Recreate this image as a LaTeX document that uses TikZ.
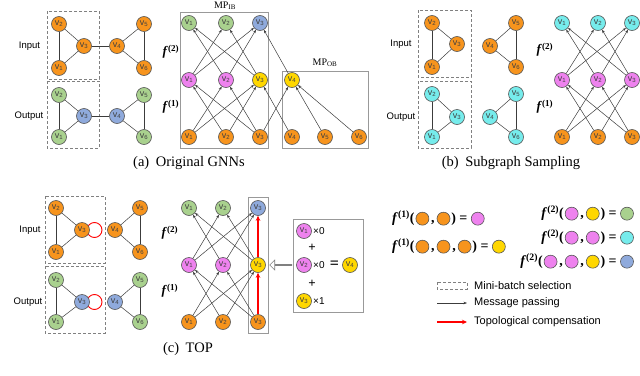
\documentclass[tikz,border=0pt]{standalone}
\usepackage{fontspec}
\setmainfont{Liberation Serif}
\setsansfont{Liberation Sans}
\usetikzlibrary{arrows.meta,shapes.arrows}
\pgfdeclarelayer{bg}\pgfsetlayers{bg,main}
\definecolor{corange}{RGB}{247,148,29}
\definecolor{cgreen}{RGB}{169,209,142}
\definecolor{cblue}{RGB}{143,170,220}
\definecolor{cpink}{RGB}{238,130,238}
\definecolor{cyellow}{RGB}{255,215,0}
\definecolor{ccyan}{RGB}{118,236,236}
\definecolor{bordergray}{RGB}{85,85,85}
\definecolor{edgegray}{RGB}{60,60,60}
\newcommand{\vlab}[1]{v\textsubscript{#1}}
\newcommand{\flab}[1]{\textbf{\textit{f}}\textsuperscript{\bfseries(#1)}}
\newcommand{\dc}[1]{\tikz[baseline=-0.6ex]\node[circle,draw=bordergray,line width=0.6pt,fill=#1,minimum size=13pt,inner sep=0pt]{};}
\newcommand{\cm}{\hspace{2pt},\hspace{2pt}}
\newcommand{\eqsgn}{\hspace{3.5pt}=\hspace{3.5pt}}
\tikzset{
 vn/.style={circle,draw=bordergray,line width=0.6pt,minimum size=15pt,inner sep=0pt,font=\sffamily\fontsize{9}{9}\selectfont,text=black!75},
 vor/.style={vn,fill=corange},
 vgr/.style={vn,fill=cgreen},
 vbl/.style={vn,fill=cblue},
 vpk/.style={vn,fill=cpink},
 vye/.style={vn,fill=cyellow},
 vcy/.style={vn,fill=ccyan},
 ed/.style={draw=edgegray,line width=0.5pt},
 ar/.style={ed,-{Stealth[length=3.5pt,width=2.6pt]}},
 rar/.style={draw=red,line width=1.4pt,-{Stealth[length=5pt,width=4.5pt]}},
 dbox/.style={draw=gray,line width=0.8pt,dash pattern=on 3pt off 2pt},
 sbox/.style={draw=gray!80,line width=0.6pt},
 lab/.style={font=\sffamily\fontsize{9.5}{10}\selectfont},
 leg/.style={font=\sffamily\fontsize{11}{12}\selectfont,anchor=west,inner sep=0pt},
 flb/.style={font=\fontsize{13}{14}\selectfont},
 captxt/.style={font=\fontsize{14.5}{16}\selectfont},
 mpl/.style={font=\fontsize{10}{11}\selectfont,inner sep=0pt},
 eqs/.style={font=\fontsize{14}{15}\selectfont\bfseries,inner sep=0pt},
 opx/.style={font=\sffamily\fontsize{10}{11}\selectfont,inner sep=0pt},
}
\begin{document}
\begin{tikzpicture}[x=1pt,y=-1pt]
\useasboundingbox (0,0) rectangle (640,375);
%================ (a) graphs
\draw[dbox] (47,11) rectangle (99,79);
\draw[dbox] (47,81) rectangle (99,148);
\node[lab] (aIn) at (29.5,46) {Input};
\node[lab] (aOut) at (29,116) {Output};
\node[vor] (ai2) at (59,24) {\vlab{2}};
\node[vor] (ai3) at (84,46) {\vlab{3}};
\node[vor] (ai1) at (59,68) {\vlab{1}};
\node[vor] (ai4) at (117,46) {\vlab{4}};
\node[vor] (ai5) at (144,24) {\vlab{5}};
\node[vor] (ai6) at (144,68) {\vlab{6}};
\node[vgr] (ao2) at (59,95) {\vlab{2}};
\node[vbl] (ao3) at (84,116) {\vlab{3}};
\node[vgr] (ao1) at (59,137) {\vlab{1}};
\node[vbl] (ao4) at (117,116) {\vlab{4}};
\node[vgr] (ao5) at (144,95) {\vlab{5}};
\node[vgr] (ao6) at (144,137) {\vlab{6}};
\foreach \p in {ai,ao}{
 \foreach \s/\t in {1/2,1/3,2/3,3/4,4/5,4/6,5/6}{\draw[ed] (\p\s) -- (\p\t);}
}
%================ (a) tree
\draw[sbox] (180,12) rectangle (268,148);
\draw[sbox] (282,71) rectangle (368,148);
\node[mpl] (mpib) at (225,5.5) {MP\textsubscript{IB}};
\node[mpl] (mpob) at (325,63) {MP\textsubscript{OB}};
\node[flb] (af2) at (171,52) {\flab{2}};
\node[flb] (af1) at (171,107) {\flab{1}};
\node[vgr] (at1) at (189,23) {\vlab{1}};
\node[vgr] (at2) at (226,23) {\vlab{2}};
\node[vbl] (at3) at (260,23) {\vlab{3}};
\node[vpk] (am1) at (189,80) {\vlab{1}};
\node[vpk] (am2) at (226,80) {\vlab{2}};
\node[vye] (am3) at (260,80) {\vlab{3}};
\node[vye] (am4) at (292,80) {\vlab{4}};
\node[vor] (al1) at (189,137) {\vlab{1}};
\node[vor] (al2) at (226,137) {\vlab{2}};
\node[vor] (al3) at (260,137) {\vlab{3}};
\node[vor] (al4) at (292,137) {\vlab{4}};
\node[vor] (al5) at (325,137) {\vlab{5}};
\node[vor] (al6) at (359,137) {\vlab{6}};
\foreach \s/\t in {l2/m1,l3/m1,l1/m2,l3/m2,l1/m3,l2/m3,l4/m3,l3/m4,l5/m4,l6/m4,m2/t1,m3/t1,m1/t2,m3/t2,m1/t3,m2/t3,m4/t3}{\draw[ar] (a\s) -- (a\t);}
\node[captxt] (capa) at (189,163) {(a)\hspace{0.45em}Original GNNs};
%================ (b) graphs
\draw[dbox] (418,10) rectangle (471,77);
\draw[dbox] (418,81) rectangle (471,148);
\node[lab] (bIn) at (401,44) {Input};
\node[lab] (bOut) at (401,117) {Output};
\node[vor] (bi2) at (432,23) {\vlab{2}};
\node[vor] (bi3) at (457,44) {\vlab{3}};
\node[vor] (bi1) at (432,67) {\vlab{1}};
\node[vor] (bi5) at (516,23) {\vlab{5}};
\node[vor] (bi4) at (490,46) {\vlab{4}};
\node[vor] (bi6) at (516,67) {\vlab{6}};
\node[vcy] (bo2) at (432,94) {\vlab{2}};
\node[vcy] (bo3) at (457,117) {\vlab{3}};
\node[vcy] (bo1) at (432,137) {\vlab{1}};
\node[vcy] (bo5) at (516,94) {\vlab{5}};
\node[vcy] (bo4) at (490,117) {\vlab{4}};
\node[vcy] (bo6) at (516,137) {\vlab{6}};
\foreach \p in {bi,bo}{
 \foreach \s/\t in {1/2,1/3,2/3,4/5,4/6,5/6}{\draw[ed] (\p\s) -- (\p\t);}
}
%================ (b) tree
\node[flb] (bf2) at (545,50) {\flab{2}};
\node[flb] (bf1) at (545,107) {\flab{1}};
\node[vcy] (bt1) at (562,23) {\vlab{1}};
\node[vcy] (bt2) at (598,23) {\vlab{2}};
\node[vcy] (bt3) at (632,23) {\vlab{3}};
\node[vpk] (bm1) at (562,80) {\vlab{1}};
\node[vpk] (bm2) at (598,80) {\vlab{2}};
\node[vpk] (bm3) at (632,80) {\vlab{3}};
\node[vor] (bl1) at (562,137) {\vlab{1}};
\node[vor] (bl2) at (598,137) {\vlab{2}};
\node[vor] (bl3) at (632,137) {\vlab{3}};
\foreach \s/\t in {l2/m1,l3/m1,l1/m2,l3/m2,l1/m3,l2/m3,m2/t1,m3/t1,m1/t2,m3/t2,m1/t3,m2/t3}{\draw[ar] (b\s) -- (b\t);}
\node[captxt] (capb) at (511,163) {(b)\hspace{0.45em}Subgraph Sampling};
%================ (c) graphs
\draw[dbox] (45,196) rectangle (105,263);
\draw[dbox] (45,266) rectangle (105,333);
\node[lab] (cIn) at (30,230) {Input};
\node[lab] (cOut) at (28,302) {Output};
\node[vor] (ci2) at (56,208) {\vlab{2}};
\node[vor] (ci3) at (82,230) {\vlab{3}};
\node[vor] (ci1) at (56,252) {\vlab{1}};
\node[vor] (ci5) at (140,208) {\vlab{5}};
\node[vor] (ci4) at (115,230) {\vlab{4}};
\node[vor] (ci6) at (140,252) {\vlab{6}};
\node[vgr] (co2) at (56,280) {\vlab{2}};
\node[vbl] (co3) at (82,302) {\vlab{3}};
\node[vgr] (co1) at (56,322) {\vlab{1}};
\node[vgr] (co5) at (140,280) {\vlab{5}};
\node[vbl] (co4) at (115,302) {\vlab{4}};
\node[vgr] (co6) at (140,322) {\vlab{6}};
\foreach \p in {ci,co}{
 \foreach \s/\t in {1/2,1/3,2/3,4/5,4/6,5/6}{\draw[ed] (\p\s) -- (\p\t);}
}
\begin{pgfonlayer}{bg}
\draw[red,line width=0.9pt] ([xshift=12.5pt]ci3.center) circle (7.5);
\draw[red,line width=0.9pt] ([xshift=12.5pt]co3.center) circle (7.5);
\end{pgfonlayer}
%================ (c) tree
\draw[sbox] (248,197) rectangle (268,333);
\node[flb] (cf2) at (170,233) {\flab{2}};
\node[flb] (cf1) at (170,291) {\flab{1}};
\node[vgr] (ct1) at (189,208) {\vlab{1}};
\node[vgr] (ct2) at (223,208) {\vlab{2}};
\node[vbl] (ct3) at (258,208) {\vlab{3}};
\node[vpk] (cm1) at (189,265) {\vlab{1}};
\node[vpk] (cm2) at (223,265) {\vlab{2}};
\node[vye] (cm3) at (258,265) {\vlab{3}};
\node[vor] (cl1) at (189,322) {\vlab{1}};
\node[vor] (cl2) at (223,322) {\vlab{2}};
\node[vor] (cl3) at (258,322) {\vlab{3}};
\foreach \s/\t in {l2/m1,l3/m1,l1/m2,l3/m2,l1/m3,l2/m3,m2/t1,m3/t1,m1/t2,m3/t2,m1/t3,m2/t3}{\draw[ar] (c\s) -- (c\t);}
\draw[rar] (cl3) -- (cm3);
\draw[rar] (cm3) -- (ct3);
\node[captxt] (capc) at (188,349) {(c)\hspace{0.45em}TOP};
% compensation box
\draw[sbox] (293,219) rectangle (363,312);
\node[single arrow,draw=gray,fill=white,line width=0.6pt,minimum height=22pt,minimum width=10pt,single arrow head extend=2.5pt,shape border rotate=180,inner sep=0pt] (harr) at (281,265) {};
\node[vpk] (p1) at (304,231) {\vlab{1}};
\node[vpk] (p2) at (304,265) {\vlab{2}};
\node[vye] (p3) at (304,301) {\vlab{3}};
\node[vye] (p4) at (350,265) {\vlab{4}};
\node[opx,anchor=west] (x1) at (313,231) {×0};
\node[opx,anchor=west] (x2) at (313,265) {×0};
\node[opx,anchor=west] (x3) at (313,301) {×1};
\node[font=\fontsize{13}{14}\selectfont\bfseries,inner sep=0pt] (pl1) at (312,248) {+};
\node[font=\fontsize{13}{14}\selectfont\bfseries,inner sep=0pt] (pl2) at (312,284) {+};
\node[font=\fontsize{16}{16}\selectfont\bfseries,inner sep=0pt] (eqq) at (334.5,265) {=};
%================ legend equations
\node[eqs,anchor=west] (eq1) at (392,218) {\flab{1}(\hspace{1pt}\dc{corange}\cm\dc{corange}\hspace{1pt})\eqsgn\dc{cpink}};
\node[eqs,anchor=west] (eq2) at (392,246) {\flab{1}(\hspace{1pt}\dc{corange}\cm\dc{corange}\cm\dc{corange}\hspace{1pt})\eqsgn\dc{cyellow}};
\node[eqs,anchor=east] (eq3) at (634,213) {\flab{2}(\hspace{1pt}\dc{cpink}\cm\dc{cyellow}\hspace{1pt})\eqsgn\dc{cgreen}};
\node[eqs,anchor=east] (eq4) at (634,237) {\flab{2}(\hspace{1pt}\dc{cpink}\cm\dc{cpink}\hspace{1pt})\eqsgn\dc{ccyan}};
\node[eqs,anchor=east] (eq5) at (634,261) {\flab{2}(\hspace{1pt}\dc{cpink}\cm\dc{cpink}\cm\dc{cyellow}\hspace{1pt})\eqsgn\dc{cblue}};
%================ legend
\draw[dbox,line width=0.6pt] (437,282) rectangle (467,289);
\node[leg] (lg1) at (474,285.5) {Mini-batch selection};
\coordinate (la) at (437,303);
\coordinate (lb) at (467,303);
\draw[ar] (la) -- (lb);
\node[leg] (lg2) at (474,303) {Message passing};
\coordinate (lc) at (437,322);
\coordinate (ld) at (467,322);
\draw[rar] (lc) -- (ld);
\node[leg] (lg3) at (474,322) {Topological compensation};
\end{tikzpicture}
\end{document}
